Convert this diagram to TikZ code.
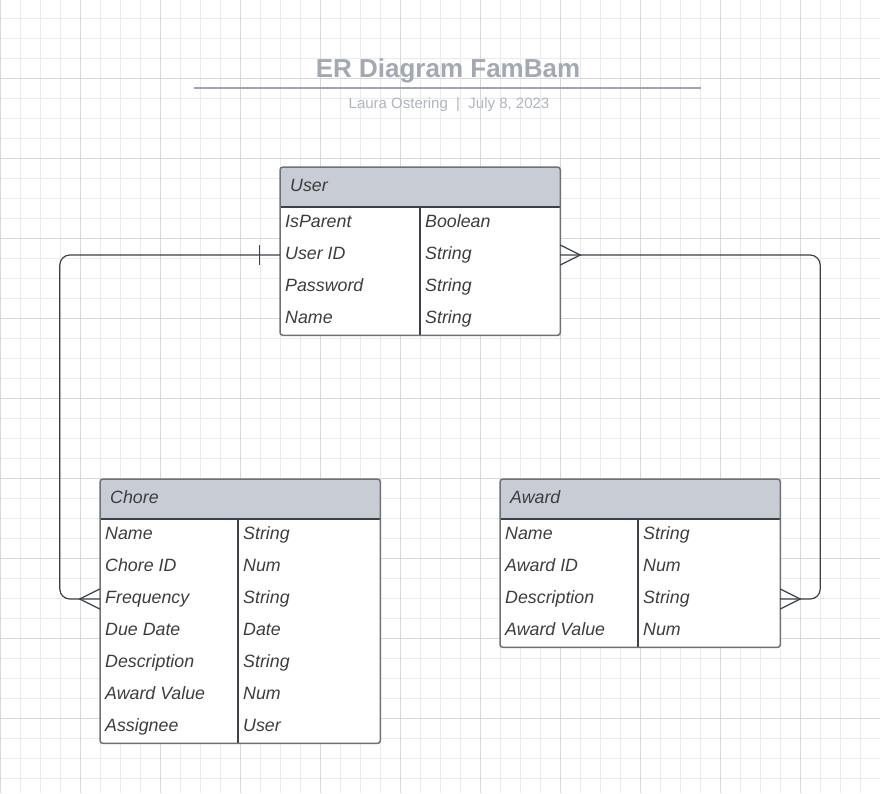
\documentclass[tikz,border=0pt]{standalone}
\usepackage{fontspec}
\setmainfont{Liberation Sans}
\usetikzlibrary{calc}
\definecolor{gridminor}{HTML}{EBEBEB}
\definecolor{gridmajor}{HTML}{D8D8D8}
\definecolor{hdrcol}{HTML}{C8CDD5}
\definecolor{bordercol}{HTML}{6E7176}
\definecolor{darkline}{HTML}{3C4048}
\definecolor{txtcol}{HTML}{3D3D3D}
\definecolor{titlecol}{HTML}{A3A9B4}
\definecolor{subcol}{HTML}{B0B5BE}
\definecolor{rulecol}{HTML}{A0A4B2}
\tikzset{
  minorgrid/.style={draw=gridminor, line width=1pt},
  majorgrid/.style={draw=gridmajor, line width=1pt},
  tblbg/.style={fill=white, draw=none, minimum width=280pt, inner sep=0pt, rounded corners=3pt},
  hdrfill/.style={fill=hdrcol},
  divline/.style={draw=darkline, line width=1.2pt},
  tblborder/.style={draw=bordercol, line width=1.5pt, rounded corners=3pt},
  rowbox/.style={draw=none, minimum width=280pt, minimum height=32pt, inner sep=0pt},
  cell/.style={inner sep=0pt, text=txtcol, font=\fontsize{17.8}{20}\selectfont\itshape},
  conn/.style={draw=darkline, line width=1.2pt},
}
% #1 name, #2 x, #3 y, #4 title, #5 rows, #6 divider offset, #7 row list
\newcommand{\ertable}[7]{%
  \pgfmathsetmacro\tblh{40+32*#5}
  \node[tblbg, minimum height=\tblh pt, anchor=north west] (#1) at (#2,#3) {};
  \begin{scope}
    \clip[rounded corners=3pt] (#1.north west) rectangle (#1.south east);
    \fill[hdrfill] (#1.north west) rectangle ([yshift=-40pt]#1.north east);
  \end{scope}
  \node[cell, anchor=base west] (#1-h) at (#2+10, #3+24) {#4};
  \foreach \k/\v [count=\i] in {#7} {
    \node[rowbox] (#1-r\i) at (#2+140, #3+24+32*\i) {};
    \node[cell, anchor=base west] (#1-k\i) at (#2+5, #3+28+32*\i) {\k};
    \node[cell, anchor=base west] (#1-v\i) at (#2+#6+5, #3+28+32*\i) {\v};
  }
  \draw[divline] ([yshift=-40pt]#1.north west) -- ([yshift=-40pt]#1.north east);
  \draw[divline] ([xshift=#6 pt,yshift=-40pt]#1.north west) -- ([xshift=#6 pt]#1.south west);
  \draw[tblborder] (#1.north west) rectangle (#1.south east);
}
\begin{document}
\begin{tikzpicture}[x=1pt,y=-1pt]
\useasboundingbox (0,0) rectangle (880,793);
\fill[white] (0,0) rectangle (880,793);
% grid
\foreach \x in {0,20,...,880} \draw[minorgrid] (\x,0) -- (\x,793);
\foreach \y in {18,38,...,793} \draw[minorgrid] (0,\y) -- (880,\y);
\foreach \x in {0,80,...,880} \draw[majorgrid] (\x,0) -- (\x,793);
\foreach \y in {78,158,...,793} \draw[majorgrid] (0,\y) -- (880,\y);
% title
\node[inner sep=0pt, text=titlecol, font=\fontsize{26}{30}\selectfont\bfseries, anchor=base] (title) at (448,77) {ER Diagram FamBam};
\coordinate (ruleL) at (194,87.5);
\coordinate (ruleR) at (701,87.5);
\draw[draw=rulecol, line width=2pt] (ruleL) -- (ruleR);
\node[inner sep=0pt, text=subcol, font=\fontsize{15}{18}\selectfont, anchor=base] (subtitle) at (449,108) {Laura Ostering\ \ |\ \ July 8, 2023};
% tables
\ertable{user}{280}{167}{User}{4}{140}{IsParent/Boolean, User ID/String, Password/String, Name/String}
\ertable{chore}{100}{479}{Chore}{7}{138}{Name/String, Chore ID/Num, Frequency/String, Due Date/Date, Description/String, Award Value/Num, Assignee/User}
\ertable{award}{500}{479}{Award}{4}{138}{Name/String, Award ID/Num, Description/String, Award Value/Num}
% connectors
\draw[conn, rounded corners=10pt] (user-r2.west) -| ([xshift=-40pt]chore-r3.west) -- (chore-r3.west);
\draw[conn, rounded corners=10pt] (user-r2.east) -| ([xshift=40pt]award-r3.east) -- (award-r3.east);
% one bar at user
\draw[conn] ([xshift=-20pt,yshift=-10pt]user-r2.west) -- ([xshift=-20pt,yshift=10pt]user-r2.west);
% crow's feet
\draw[conn] ([yshift=10pt]chore-r3.west) -- ([xshift=-20pt]chore-r3.west) -- ([yshift=-10pt]chore-r3.west);
\draw[conn] ([yshift=10pt]user-r2.east) -- ([xshift=20pt]user-r2.east) -- ([yshift=-10pt]user-r2.east);
\draw[conn] ([yshift=10pt]award-r3.east) -- ([xshift=20pt]award-r3.east) -- ([yshift=-10pt]award-r3.east);
\end{tikzpicture}
\end{document}
